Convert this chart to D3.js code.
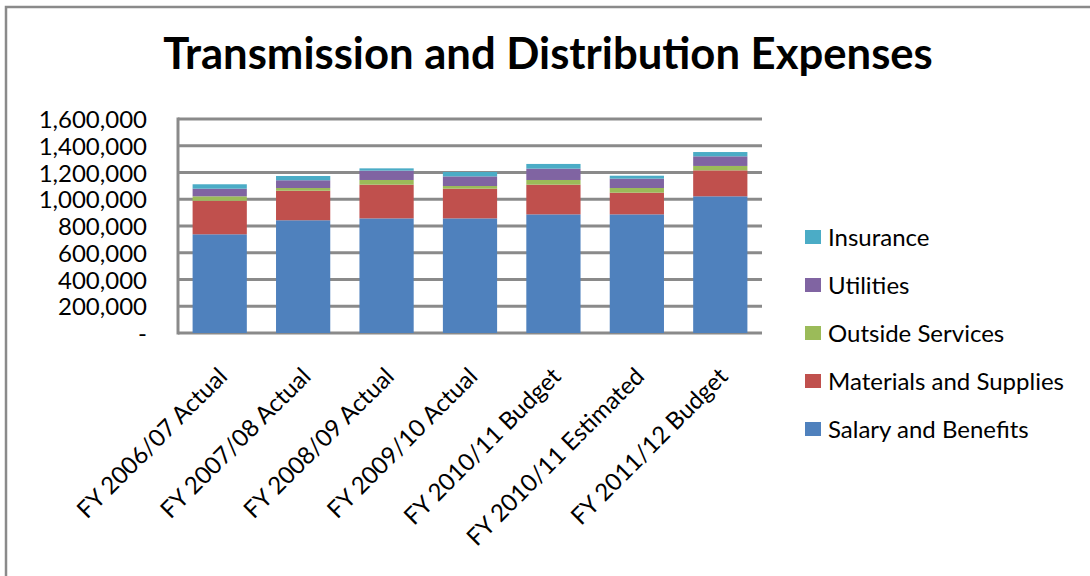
<!DOCTYPE html>
<html>
<head>
<meta charset="utf-8">
<script src="https://cdn.jsdelivr.net/npm/d3@7"></script>
<style>
  html, body { margin: 0; padding: 0; background: #fff; }
  svg { display: block; font-family: Lato, "Open Sans", sans-serif; }
</style>
</head>
<body>
<svg id="chart" width="1090" height="576"></svg>
<script>
// Fiscal years shown along the x axis
const categories = [
  "FY 2006/07 Actual",
  "FY 2007/08 Actual",
  "FY 2008/09 Actual",
  "FY 2009/10 Actual",
  "FY 2010/11 Budget",
  "FY 2010/11 Estimated",
  "FY 2011/12 Budget"
];

// Expense components (dollars), stacked bottom to top
const salaryAndBenefits     = [738000, 843000, 857000, 857000, 887000, 887000, 1022000];
const materialsAndSupplies  = [251000, 221000, 252000, 222000, 222000, 162000, 194000];
const outsideServices       = [33000, 20000, 35000, 20000, 35000, 35000, 33000];
const utilities             = [57000, 58000, 70000, 72000, 85000, 70000, 72000];
const insurance             = [33000, 32000, 17000, 33000, 35000, 22000, 32000];

const seriesNames = ["Salary and Benefits", "Materials and Supplies", "Outside Services", "Utilities", "Insurance"];
const seriesColors = ["#4F81BD", "#C0504D", "#9BBB59", "#8064A2", "#4BACC6"];

const yTicks = [0, 200000, 400000, 600000, 800000, 1000000, 1200000, 1400000, 1600000];

const svg = d3.select("#chart");
const W = 1090, H = 576;

// Chart frame
svg.append("rect")
  .attr("x", 6).attr("y", 7)
  .attr("width", W + 20).attr("height", H + 20)
  .attr("fill", "none")
  .attr("stroke", "#8a8a8a")
  .attr("stroke-width", 2.5);

// Title
const title = svg.append("text")
  .attr("x", 548).attr("y", 69)
  .attr("text-anchor", "middle")
  .attr("font-weight", 700)
  .attr("font-size", 40)
  .attr("fill", "#000")
  .text("Transmission and Distribution Expenses");
// fit title to its intended width
const tLen = title.node().getComputedTextLength();
if (tLen > 0) title.attr("font-size", 40 * 770 / tLen);

// Build stacked table
const rows = categories.map((c, i) => ({
  category: c,
  "Salary and Benefits": salaryAndBenefits[i],
  "Materials and Supplies": materialsAndSupplies[i],
  "Outside Services": outsideServices[i],
  "Utilities": utilities[i],
  "Insurance": insurance[i]
}));
const stacked = d3.stack().keys(seriesNames)(rows);

const plot = { left: 178, right: 762, top: 119, bottom: 333 };

const x = d3.scaleBand()
  .domain(categories)
  .range([plot.left, plot.right])
  .paddingInner(0.35)
  .paddingOuter(0.175);

const y = d3.scaleLinear()
  .domain([0, 1600000])
  .range([plot.bottom, plot.top]);

const gridColor = "#8a8a8a";

// Horizontal gridlines
svg.append("g")
  .selectAll("line")
  .data(yTicks)
  .join("line")
  .attr("x1", plot.left).attr("x2", plot.right)
  .attr("y1", d => y(d)).attr("y2", d => y(d))
  .attr("stroke", gridColor)
  .attr("stroke-width", 3);

// Value axis line
svg.append("line")
  .attr("x1", plot.left).attr("x2", plot.left)
  .attr("y1", y(1600000) - 1.5).attr("y2", y(0) + 1.5)
  .attr("stroke", gridColor)
  .attr("stroke-width", 3);

// Y tick labels
const fmt = d3.format(",");
const yAxis = d3.axisLeft(y)
  .tickValues(yTicks)
  .tickSize(0)
  .tickPadding(0)
  .tickFormat(d => d === 0 ? "-" : fmt(d));
const yg = svg.append("g")
  .attr("transform", `translate(147,0)`)
  .call(yAxis);
yg.select(".domain").remove();
yg.selectAll("text")
  .attr("font-family", "Lato, sans-serif")
  .attr("font-size", 24)
  .attr("fill", "#000")
  .attr("dy", "0.36em");

// Stacked bars
svg.append("g")
  .selectAll("g")
  .data(stacked)
  .join("g")
  .attr("fill", (d, i) => seriesColors[i])
  .selectAll("rect")
  .data(d => d)
  .join("rect")
  .attr("x", d => x(d.data.category))
  .attr("width", x.bandwidth())
  .attr("y", d => y(d[1]))
  .attr("height", d => y(d[0]) - y(d[1]));

// X tick labels, rotated
const xAxis = d3.axisBottom(x).tickSize(0).tickPadding(0);
const xg = svg.append("g")
  .attr("transform", `translate(0,${plot.bottom})`)
  .call(xAxis);
xg.select(".domain").remove();
xg.selectAll("text")
  .attr("font-family", "Lato, sans-serif")
  .attr("font-size", 24)
  .attr("fill", "#000")
  .attr("text-anchor", "end")
  .attr("dy", 0)
  .attr("y", 0)
  .attr("transform", "translate(9,45) rotate(-45)");

// Legend (top to bottom reverses the stacking order)
const legendItems = seriesNames.map((n, i) => ({ name: n, color: seriesColors[i] })).reverse();
const legend = svg.append("g")
  .selectAll("g")
  .data(legendItems)
  .join("g")
  .attr("transform", (d, i) => `translate(805,${230 + i * 48})`);
legend.append("rect")
  .attr("width", 16).attr("height", 14)
  .attr("fill", d => d.color);
legend.append("text")
  .attr("x", 23).attr("y", 16)
  .attr("font-size", 24)
  .attr("fill", "#000")
  .text(d => d.name);
</script>
</body>
</html>
